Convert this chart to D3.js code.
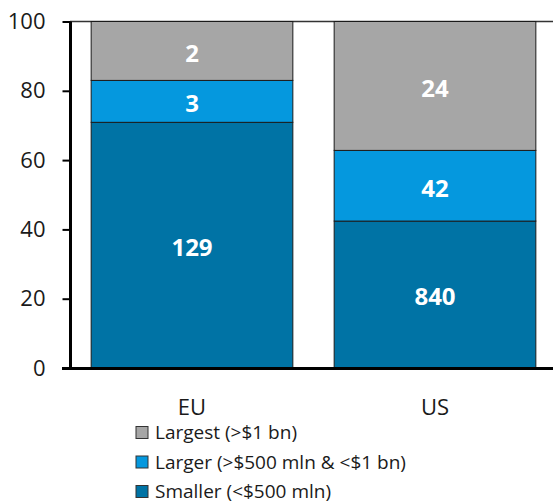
<!DOCTYPE html>
<html>
<head>
<meta charset="utf-8">
<script src="https://cdn.jsdelivr.net/npm/d3@7"></script>
<style>
  body { margin: 0; background: #fff; }
  svg text { font-family: "Open Sans", "Noto Sans", sans-serif; }
</style>
</head>
<body>
<svg id="chart" width="553" height="504"></svg>
<script>
// data
var regions = ['EU', 'US'];
var series = ['Smaller', 'Larger', 'Largest'];
var seriesNames = ['Largest (>$1 bn)', 'Larger (>$500 mln & <$1 bn)', 'Smaller (<$500 mln)'];
var smaller = [70.9, 42.4];
var larger = [12.1, 20.4];
var largest = [17.0, 37.2];
var counts = {
    Smaller: [129, 840],
    Larger: [3, 42],
    Largest: [2, 24]
};
var yTicks = [0, 20, 40, 60, 80, 100];

var colors = {
    Smaller: '#0073a5',
    Larger: '#0598de',
    Largest: '#a6a6a6'
};

var svg = d3.select('#chart');

var x = d3.scaleBand().domain(regions).range([70.5, 556.5]).paddingInner(0.17).paddingOuter(0.085);
var y = d3.scaleLinear().domain([0, 100]).range([368, 21.5]);

var rows = regions.map(function(r, i) {
    return { region: r, Smaller: smaller[i], Larger: larger[i], Largest: largest[i], idx: i };
});
var stacked = d3.stack().keys(series)(rows);

// top line at 100
svg.append('line')
    .attr('x1', 70).attr('x2', 553)
    .attr('y1', y(100)).attr('y2', y(100))
    .style('stroke', '#333').style('stroke-width', 1.5);

var layer = svg.selectAll('.layer').data(stacked).enter().append('g')
    .attr('class', 'layer')
    .style('fill', function(d) { return colors[d.key]; });

layer.selectAll('rect').data(function(d) { return d; }).enter().append('rect')
    .attr('x', function(d) { return x(d.data.region); })
    .attr('width', x.bandwidth())
    .attr('y', function(d) { return y(d[1]); })
    .attr('height', function(d) { return y(d[0]) - y(d[1]); })
    .style('stroke', '#1a1a1a').style('stroke-width', 1);

// white count labels
stacked.forEach(function(s) {
    svg.selectAll('.lbl-' + s.key).data(s).enter().append('text')
        .attr('x', function(d) { return x(d.data.region) + x.bandwidth() / 2; })
        .attr('y', function(d) { return (y(d[0]) + y(d[1])) / 2; })
        .attr('dy', '0.45em')
        .attr('text-anchor', 'middle')
        .style('fill', '#fff').style('font-weight', 'bold').style('font-size', '24px')
        .text(function(d) { return counts[s.key][d.data.idx]; });
});

// y axis
var yAxis = svg.append('g').attr('transform', 'translate(70.5,0)')
    .call(d3.axisLeft(y).tickValues(yTicks).tickSize(8).tickPadding(17));
yAxis.select('.domain').remove();
yAxis.selectAll('.tick line').style('stroke', '#000').style('stroke-width', 2);
yAxis.selectAll('.tick text').style('font-size', '22px').style('fill', '#1a1a1a')
    .style('font-family', '"Open Sans", sans-serif');
svg.append('line')
    .attr('x1', 70.5).attr('x2', 70.5).attr('y1', y(100)).attr('y2', y(0))
    .style('stroke', '#000').style('stroke-width', 3);

// x axis
svg.append('line')
    .attr('x1', 62).attr('x2', 553).attr('y1', y(0) + 0.5).attr('y2', y(0) + 0.5)
    .style('stroke', '#000').style('stroke-width', 3);
svg.selectAll('.xlab').data(regions).enter().append('text')
    .attr('x', function(d) { return x(d) + x.bandwidth() / 2; })
    .attr('y', 415)
    .attr('text-anchor', 'middle')
    .style('font-size', '22px').style('fill', '#1a1a1a')
    .text(function(d) { return d; });

// legend
var legendKeys = ['Largest', 'Larger', 'Smaller'];
var legend = svg.selectAll('.leg').data(legendKeys).enter().append('g')
    .attr('transform', function(d, i) { return 'translate(136,' + (426.5 + i * 29.5) + ')'; });
legend.append('rect')
    .attr('width', 12).attr('height', 12)
    .style('fill', function(d) { return colors[d]; })
    .style('stroke', '#333').style('stroke-width', 1);
legend.append('text')
    .attr('x', 19).attr('y', 12.5)
    .style('font-size', '19px').style('fill', '#1a1a1a')
    .text(function(d, i) { return seriesNames[i]; });
</script>
</body>
</html>
